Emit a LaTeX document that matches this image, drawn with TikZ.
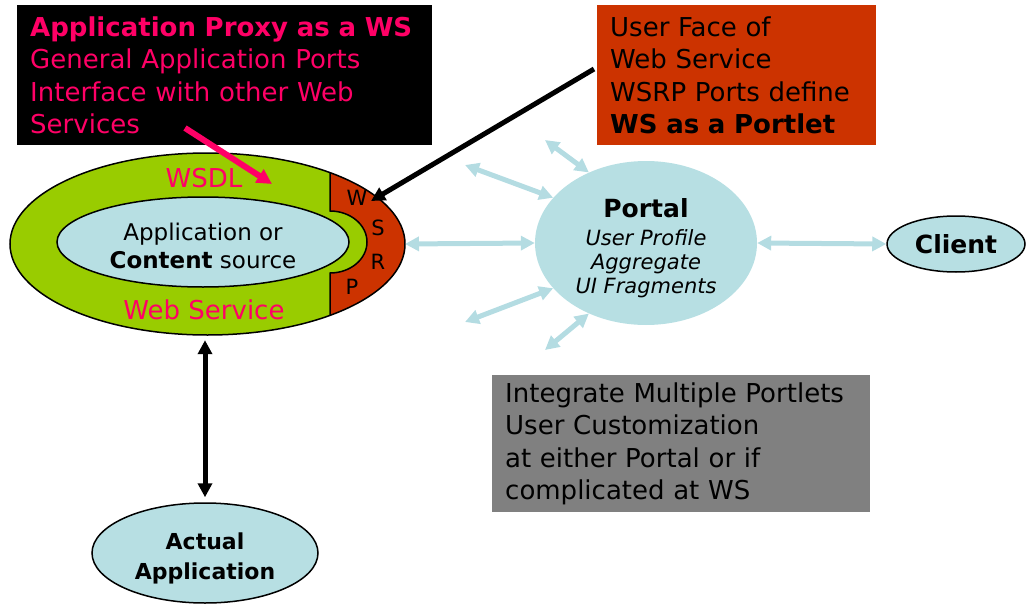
\documentclass[tikz,border=0pt]{standalone}
\usepackage{fontspec}
\setmainfont{DejaVu Sans}
\usetikzlibrary{shapes.geometric,arrows.meta}
\definecolor{wsgreen}{HTML}{99CC00}
\definecolor{wsred}{HTML}{CC3300}
\definecolor{ltblue}{HTML}{B7DFE3}
\definecolor{arrblue}{HTML}{B4DCE2}
\definecolor{pinktext}{HTML}{FF0066}
\definecolor{boxgray}{HTML}{808080}
\begin{document}
\begin{tikzpicture}[x=1pt,y=-1pt,
  bigtxt/.style={font=\fontsize{26}{32.5}\selectfont},
  notebox/.style={bigtxt, anchor=north west, align=left, inner xsep=13pt, inner ysep=0pt},
  oval/.style={ellipse, inner sep=0pt, draw=black, line width=1.5pt, fill=ltblue},
  bluearrow/.style={draw=arrblue, line width=5pt, {Triangle[length=14pt,width=14pt]}-{Triangle[length=14pt,width=14pt]}},
  blackarrow/.style={draw=black, line width=5pt, -{Triangle[length=14pt,width=14pt]}},
  pinkarrow/.style={draw=pinktext, line width=6pt, -{Triangle[length=15pt,width=15pt]}},
  letter/.style={font=\fontsize{21}{21}\selectfont, inner sep=0pt}
]
\useasboundingbox (0,0) rectangle (1027,607);

% boxes
\node[notebox, fill=black, text=pinktext, text width=389pt, minimum height=140pt] (proxy) at (17,5)
  {\textbf{Application Proxy as a WS}\\General Application Ports\\Interface with other Web\\Services};
\node[notebox, fill=wsred, text=black, text width=253pt, minimum height=140pt] (face) at (597,5)
  {User Face of\\Web Service\\WSRP Ports define\\\textbf{WS as a Portlet}};
\node[notebox, fill=boxgray, text=black, text width=352pt, minimum height=137pt] (integ) at (492,375)
  {Integrate Multiple Portlets\\User Customization\\at either Portal or if\\complicated at WS};

% web service ellipse
\node[ellipse, inner sep=0pt, fill=wsgreen, minimum width=395pt, minimum height=182pt] (ws) at (207.5,244) {};
\begin{scope}
  \clip (207.5,244) ellipse [x radius=197.5, y radius=91];
  \fill[wsred] (330,100) -- (330,211) arc[start angle=-90, end angle=90, x radius=37, y radius=31] -- (330,400) -- (440,400) -- (440,100) -- cycle;
  \draw[line width=1.5pt] (330,100) -- (330,211) arc[start angle=-90, end angle=90, x radius=37, y radius=31] -- (330,400);
\end{scope}
\draw[line width=1.5pt] (207.5,244) ellipse [x radius=197.5, y radius=91];
\node[oval, minimum width=292pt, minimum height=90pt] (src) at (203,242) {};
\node[align=center, font=\fontsize{23}{28}\selectfont, inner sep=0pt] (srctext) at (203,246)
  {Application or\\\textbf{Content} source};
\node[text=pinktext, font=\fontsize{26}{26}\selectfont, inner sep=0pt] (wsdl) at (204,178) {WSDL};
\node[text=pinktext, font=\fontsize{26}{26}\selectfont, inner sep=0pt] (wslabel) at (204,310) {Web Service};
\node[letter] (lw) at (357,198) {W};
\node[letter] (ls) at (378,228) {S};
\node[letter] (lr) at (378,262) {R};
\node[letter] (lp) at (352,287) {P};

% portal
\node[ellipse, inner sep=0pt, fill=ltblue, minimum width=222pt, minimum height=164pt] (portal) at (646,243) {};
\node[align=center, inner sep=0pt, font=\fontsize{21}{24}\selectfont] (portaltext) at (646,248)
  {{\fontsize{25}{30}\selectfont\bfseries Portal}\\[4pt]
   \itshape User Profile\\
   \itshape Aggregate\\
   \itshape UI Fragments};
\node[oval, minimum width=138pt, minimum height=56pt, font=\fontsize{25}{25}\selectfont\bfseries] (client) at (956,244) {Client};
\node[oval, minimum width=226pt, minimum height=100pt] (app) at (205,553) {};
\node[align=center, inner sep=0pt, font=\fontsize{22}{30}\selectfont\bfseries] (apptext) at (205,558) {Actual\\Application};

% coordinates
\coordinate (wsrpin) at (405,244);
\coordinate (r1) at (545,140);
\coordinate (r2) at (465,165);
\coordinate (r3) at (465,322);
\coordinate (r4) at (545,350);
\coordinate (pinkstart) at (185,128);
\coordinate (pinkend) at (272,184);
\coordinate (wend) at (371,201);
\coordinate (facestart) at (594,69);

% connectors
\draw[bluearrow] (portal.west) -- (wsrpin);
\draw[bluearrow] (portal.east) -- (client.west);
\draw[bluearrow] (portal.129.7) -- (r1);
\draw[bluearrow] (portal.154.4) -- (r2);
\draw[bluearrow] (portal.206.8) -- (r3);
\draw[bluearrow] (portal.231.4) -- (r4);
\draw[pinkarrow] (pinkstart) -- (pinkend);
\draw[blackarrow] (facestart) -- (wend);
\draw[blackarrow, {Triangle[length=14pt,width=14pt]}-{Triangle[length=14pt,width=14pt]}, shorten <=5pt, shorten >=5pt] (app.north |- ws.south) -- (app.north);
\end{tikzpicture}
\end{document}
